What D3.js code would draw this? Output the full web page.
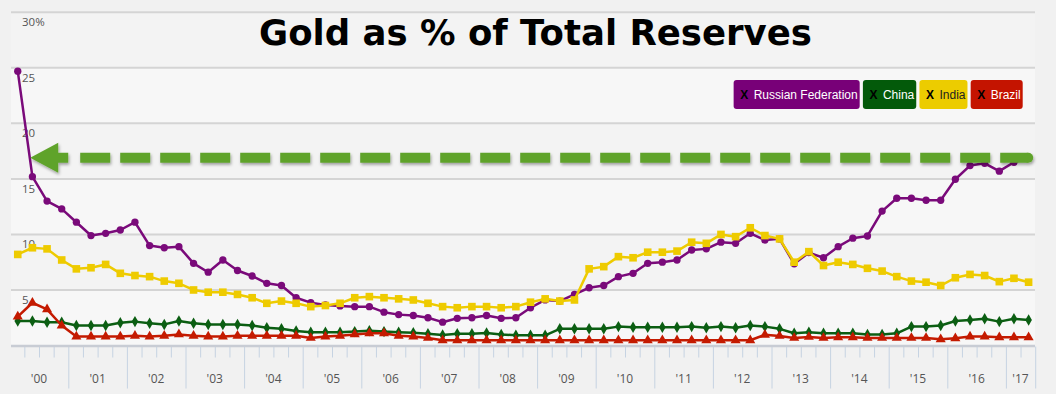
<!DOCTYPE html>
<html>
<head>
<meta charset="utf-8">
<script src="https://cdn.jsdelivr.net/npm/d3@7"></script>
<style>
  body { margin: 0; background: #f1f1f1; }
  svg { display: block; }
</style>
</head>
<body>
<svg id="chart"></svg>
<script>
const width = 1056;
const height = 394;

// quarterly values, 2000 Q1 .. 2017 Q2
const russia = [24.7, 15.2, 13.0, 12.3, 11.1, 9.9, 10.1, 10.4, 11.1, 9.0, 8.8, 8.9, 7.4, 6.6, 7.7, 6.75,
  6.26, 5.6, 5.4, 4.3, 3.86, 3.65, 3.56, 3.5, 3.5, 3.0, 2.78, 2.7, 2.5, 2.1, 2.45, 2.5,
  2.7, 2.45, 2.5, 3.4, 4.1, 4.0, 4.6, 5.2, 5.4, 6.2, 6.5, 7.4, 7.5, 7.7, 8.6, 8.7,
  9.3, 9.2, 10.1, 9.5, 9.6, 7.35, 8.36, 7.9, 8.9, 9.66, 9.86, 12.1, 13.26, 13.26, 13.08, 13.08,
  14.97, 16.2, 16.4, 15.7, 16.5, 16.9];
const china = [2.2, 2.2, 2.1, 2.1, 1.8, 1.8, 1.8, 2.05, 2.15, 2.0, 1.9, 2.2, 2.0, 1.9, 1.9, 1.9,
  1.8, 1.6, 1.5, 1.3, 1.2, 1.2, 1.2, 1.25, 1.33, 1.25, 1.2, 1.15, 1.05, 0.95, 1.05, 1.05,
  1.12, 1.0, 0.92, 0.92, 0.92, 1.5, 1.5, 1.5, 1.5, 1.7, 1.65, 1.65, 1.65, 1.65, 1.7, 1.6,
  1.7, 1.6, 1.8, 1.7, 1.5, 1.1, 1.2, 1.1, 1.1, 1.1, 1.0, 1.0, 1.1, 1.7, 1.7, 1.8,
  2.2, 2.3, 2.4, 2.15, 2.4, 2.3];
const india = [8.2, 8.8, 8.7, 7.7, 6.9, 7.0, 7.3, 6.5, 6.3, 6.2, 5.8, 5.6, 5.0, 4.8, 4.8, 4.6,
  4.3, 3.8, 4.0, 3.8, 3.5, 3.6, 3.8, 4.3, 4.4, 4.3, 4.2, 4.1, 3.8, 3.5, 3.4, 3.5,
  3.5, 3.4, 3.5, 3.9, 4.2, 4.0, 4.1, 6.9, 7.1, 8.0, 7.9, 8.4, 8.4, 8.5, 9.3, 9.2,
  10.0, 9.8, 10.6, 9.9, 9.6, 7.5, 8.45, 7.2, 7.5, 7.3, 6.95, 6.7, 6.2, 5.8, 5.7, 5.4,
  6.1, 6.4, 6.3, 5.75, 6.05, 5.7];
const brazil = [2.6, 3.85, 3.26, 1.8, 0.8, 0.8, 0.8, 0.8, 0.88, 0.8, 0.88, 1.0, 0.88, 0.8, 0.8, 0.88,
  0.88, 0.88, 0.88, 0.88, 0.68, 0.8, 0.88, 1.0, 1.1, 1.1, 0.88, 0.8, 0.68, 0.47, 0.47, 0.47,
  0.47, 0.47, 0.47, 0.47, 0.47, 0.47, 0.47, 0.47, 0.47, 0.47, 0.47, 0.47, 0.47, 0.47, 0.47, 0.47,
  0.47, 0.47, 0.47, 0.97, 0.86, 0.68, 0.77, 0.68, 0.74, 0.74, 0.68, 0.68, 0.68, 0.68, 0.68, 0.56,
  0.65, 0.8, 0.8, 0.74, 0.74, 0.74];

const seriesNames = ["Russian Federation", "China", "India", "Brazil"];
const seriesValues = [russia, china, india, brazil];
const yearLabels = ["'00", "'01", "'02", "'03", "'04", "'05", "'06", "'07", "'08", "'09",
  "'10", "'11", "'12", "'13", "'14", "'15", "'16", "'17"];
const yTicks = [0, 5, 10, 15, 20, 25, 30];
const arrowLevel = 16.9;

const colors = ["#7a0a7a", "#0b5e12", "#eecb00", "#c41a00"];
const legendColors = ["#780078", "#035a0a", "#eccc00", "#c41400"];
const legendText = ["#fff", "#fff", "#222", "#fff"];
const symbols = [d3.symbolCircle, d3.symbolDiamond, d3.symbolSquare, d3.symbolTriangle];
const symbolSizes = [42, 38, 58, 44];

const nQuarters = 70;
const x = d3.scaleLinear().domain([0, nQuarters]).range([9.7, 1035.2]);
const y = d3.scaleLinear().domain([0, 30]).range([345.5, 12.3]);
const px = i => x(i + 0.55);

const svg = d3.select("#chart").attr("width", width).attr("height", height);

// plot bands + grid
const plotLeft = 11, plotRight = 1035;
svg.selectAll("rect.band")
  .data(yTicks.slice(0, -1))
  .enter().append("rect")
  .attr("x", plotLeft)
  .attr("y", d => y(d + 5))
  .attr("width", plotRight - plotLeft)
  .attr("height", d => y(d) - y(d + 5))
  .attr("fill", (d, i) => i % 2 ? "#f3f3f3" : "#f7f7f7");

svg.selectAll("line.grid")
  .data(yTicks.slice(1))
  .enter().append("line")
  .attr("x1", plotLeft).attr("x2", plotRight)
  .attr("y1", d => y(d)).attr("y2", d => y(d))
  .attr("stroke", "#d4d4d4")
  .attr("stroke-width", 2);

svg.selectAll("text.ylab")
  .data(yTicks.slice(1))
  .enter().append("text")
  .attr("x", 22)
  .attr("y", d => y(d) + 14)
  .text(d => d === 30 ? "30%" : d)
  .style("font-family", "'Open Sans', sans-serif")
  .style("font-size", "11.5px")
  .style("fill", "#555");

// x axis
const minorQ = d3.range(1, nQuarters).filter(q => q % 4 !== 0);
const majorQ = d3.range(4, nQuarters, 4).concat([nQuarters]);

const minorAxis = svg.append("g")
  .attr("transform", `translate(0,${y(0) + 1})`)
  .call(d3.axisBottom(x).tickValues(minorQ).tickSize(11).tickFormat(""));
const majorAxis = svg.append("g")
  .attr("transform", `translate(0,${y(0) + 1})`)
  .call(d3.axisBottom(x).tickValues(majorQ).tickSize(42).tickFormat(""));
[minorAxis, majorAxis].forEach(g => {
  g.select(".domain").remove();
  g.selectAll(".tick line").attr("stroke", "#c6d3e2").attr("stroke-width", 1);
});
svg.append("line")
  .attr("x1", plotLeft).attr("x2", plotRight)
  .attr("y1", y(0) + 0.5).attr("y2", y(0) + 0.5)
  .attr("stroke", "#c8ccd4")
  .attr("stroke-width", 2.5);

svg.selectAll("text.xlab")
  .data(yearLabels)
  .enter().append("text")
  .attr("x", (d, i) => i === yearLabels.length - 1 ? x(69) : x(i * 4 + 2))
  .attr("y", 383)
  .attr("text-anchor", "middle")
  .text(d => d)
  .style("font-family", "'Open Sans', sans-serif")
  .style("font-size", "12px")
  .style("fill", "#555");

// series
const line = d3.line().x((d, i) => px(i)).y(d => y(d));
seriesValues.forEach((vals, s) => {
  const g = svg.append("g");
  g.append("path")
    .datum(vals)
    .attr("d", line)
    .attr("fill", "none")
    .attr("stroke", colors[s])
    .attr("stroke-width", 2.5)
    .attr("stroke-linejoin", "round");
  g.selectAll("path.pt")
    .data(vals)
    .enter().append("path")
    .attr("transform", (d, i) => `translate(${px(i)},${y(d)})`)
    .attr("d", d3.symbol().type(symbols[s]).size(symbolSizes[s]))
    .attr("fill", colors[s]);
});

// arrow annotation
const defs = svg.append("defs");
defs.append("filter").attr("id", "shadow")
  .attr("x", "-5%").attr("y", "-50%").attr("width", "110%").attr("height", "200%")
  .append("feDropShadow")
  .attr("dx", 1).attr("dy", 2).attr("stdDeviation", 1.5)
  .attr("flood-color", "#000").attr("flood-opacity", 0.35);

const ay = y(arrowLevel);
const tipX = x(1.4);
const endX = x(nQuarters) - 7;
const arrow = svg.append("g").attr("filter", "url(#shadow)").attr("fill", "#5fa32c");
arrow.append("path")
  .attr("d", `M${tipX},${ay} L${tipX + 28},${ay - 15} L${tipX + 28},${ay - 5} L${tipX + 38},${ay - 5} L${tipX + 38},${ay + 5} L${tipX + 28},${ay + 5} L${tipX + 28},${ay + 15} Z`);
arrow.append("line")
  .attr("x1", tipX + 50).attr("x2", endX)
  .attr("y1", ay).attr("y2", ay)
  .attr("stroke", "#5fa32c")
  .attr("stroke-width", 10)
  .attr("stroke-dasharray", "30,10");
arrow.append("circle")
  .attr("cx", endX).attr("cy", ay).attr("r", 5);

// legend
const legend = svg.append("g").attr("id", "legend");
const items = legend.selectAll("g")
  .data(seriesNames)
  .enter().append("g");
items.append("rect")
  .attr("y", 80).attr("height", 29).attr("rx", 3)
  .attr("fill", (d, i) => legendColors[i]);
items.append("text")
  .attr("class", "xmark")
  .attr("y", 99)
  .text("X")
  .style("font-family", "'Liberation Sans', Arial, sans-serif")
  .style("font-weight", "bold")
  .style("font-size", "12px")
  .style("fill", "#000");
items.append("text")
  .attr("class", "name")
  .attr("y", 99)
  .text(d => d)
  .style("font-family", "'Liberation Sans', Arial, sans-serif")
  .style("font-size", "12px")
  .style("fill", (d, i) => legendText[i]);

const widths = [];
items.each(function () {
  const w = d3.select(this).select("text.name").node().getComputedTextLength();
  widths.push(w + 22);
});
const gap = 3.2;
let cx = 1022.7 - d3.sum(widths) - gap * (widths.length - 1);
items.each(function (d, i) {
  const g = d3.select(this);
  g.select("rect").attr("x", cx).attr("width", widths[i]);
  g.select("text.xmark").attr("x", cx + 6.5);
  g.select("text.name").attr("x", cx + 20);
  cx += widths[i] + gap;
});

// title
const title = svg.append("text")
  .attr("x", 535.5)
  .attr("y", 45)
  .attr("text-anchor", "middle")
  .text("Gold as % of Total Reserves")
  .style("font-family", "'DejaVu Sans', Verdana, sans-serif")
  .style("font-weight", "bold")
  .style("font-size", "36px")
  .style("fill", "#000");
const tw = title.node().getComputedTextLength();
title.style("font-size", (36 * 553 / tw) + "px");
</script>
</body>
</html>
